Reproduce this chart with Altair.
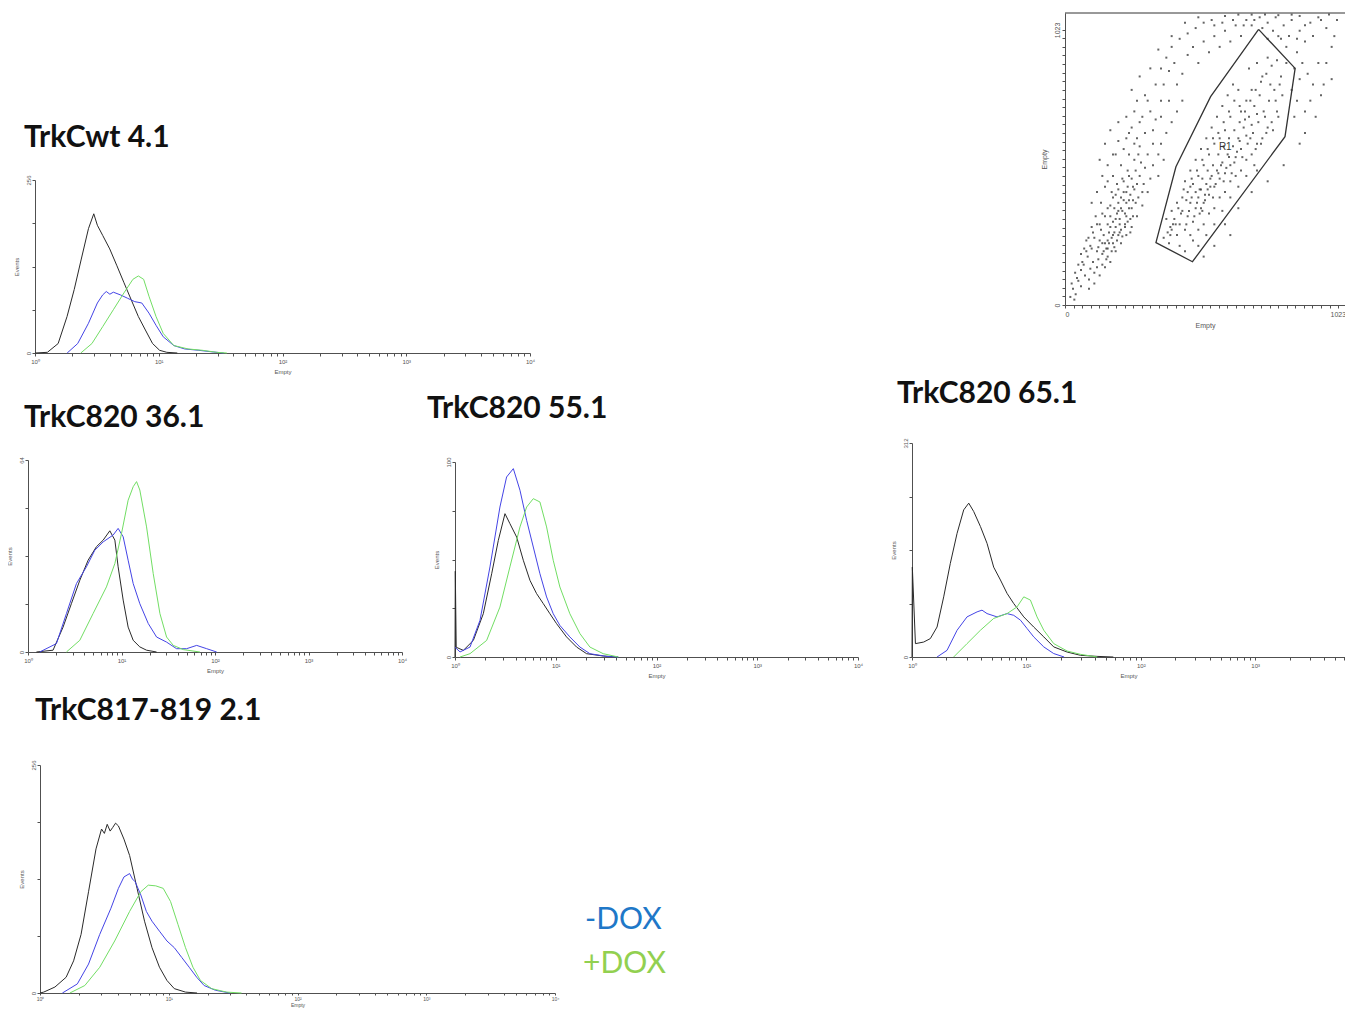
import math
import pandas as pd
import altair as alt

W, H = 1337, 1000
SERIES = ["control", "-DOX", "+DOX"]
COLORS = ["#2a2a2a", "#4444e6", "#72de64"]

# ---------------- histogram data (x = log10 decade of "Empty", y = Events) -------------
# Panel A: TrkCwt 4.1
A_ctrl_x = [0.0, 0.10, 0.187, 0.259, 0.317, 0.374, 0.432, 0.475, 0.504, 0.547, 0.604, 0.662, 0.719, 0.777, 0.835, 0.892, 0.95, 1.007, 1.065, 1.15]
A_ctrl_y = [0, 1, 14, 54, 94, 139, 184, 206, 189, 174, 154, 129, 104, 79, 54, 34, 14, 4, 1, 0]
A_minus_x = [0.26, 0.345, 0.432, 0.504, 0.547, 0.576, 0.605, 0.633, 0.69, 0.748, 0.806, 0.863, 0.921, 0.978, 1.036, 1.122, 1.209, 1.324, 1.44, 1.525]
A_minus_y = [0, 14, 44, 74, 86, 91, 87, 90, 86, 81, 76, 74, 59, 41, 24, 11, 6, 4, 1.5, 0]
A_plus_x = [0.37, 0.46, 0.547, 0.633, 0.719, 0.791, 0.835, 0.878, 0.921, 0.978, 1.036, 1.122, 1.237, 1.353, 1.468, 1.55]
A_plus_y = [0, 14, 39, 64, 89, 109, 114, 109, 84, 54, 29, 11, 6, 4, 1, 0]

# Panel B: TrkC820 36.1
B_ctrl_x = [0.09, 0.268, 0.375, 0.464, 0.554, 0.643, 0.732, 0.804, 0.875, 0.929, 0.964, 1.018, 1.071, 1.125, 1.196, 1.268, 1.375]
B_ctrl_y = [0, 0.6, 8.3, 16.1, 23.9, 30.6, 35.1, 37.3, 40.4, 37.3, 28.4, 17.3, 8.3, 3.9, 1.7, 0.6, 0]
B_minus_x = [0.125, 0.304, 0.411, 0.518, 0.625, 0.714, 0.804, 0.911, 0.964, 1.018, 1.071, 1.125, 1.196, 1.286, 1.375, 1.482, 1.589, 1.696, 1.804, 1.911, 2.018]
B_minus_y = [0, 2.8, 12.8, 22.8, 28.4, 33.9, 36.7, 39.0, 41.2, 38.4, 30.6, 22.8, 16.1, 9.5, 5.0, 3.3, 1.1, 1.1, 2.2, 1.1, 0]
B_plus_x = [0.411, 0.554, 0.696, 0.839, 0.929, 1.0, 1.071, 1.125, 1.161, 1.196, 1.268, 1.339, 1.411, 1.482, 1.554, 1.661, 1.839]
B_plus_y = [0, 3.9, 12.8, 21.7, 29.5, 39.5, 50.6, 55.1, 56.8, 54.0, 41.7, 26.2, 12.8, 5.0, 2.2, 0.8, 0]

# Panel C: TrkC820 55.1
C_ctrl_x = [0.0, 0.003, 0.012, 0.083, 0.182, 0.281, 0.364, 0.43, 0.496, 0.545, 0.612, 0.678, 0.744, 0.81, 0.876, 0.942, 1.008, 1.107, 1.207, 1.306, 1.471, 1.62]
C_ctrl_y = [0, 44, 5, 3.4, 8.5, 22.2, 42.7, 59.8, 73.5, 68.4, 61.5, 49.6, 39.3, 32.5, 27.4, 22.2, 17.1, 10.3, 5.1, 1.7, 0.5, 0]
C_minus_x = [0.0, 0.05, 0.149, 0.248, 0.347, 0.446, 0.512, 0.579, 0.645, 0.711, 0.777, 0.843, 0.909, 0.975, 1.041, 1.14, 1.24, 1.339, 1.504, 1.62]
C_minus_y = [5, 2.6, 5.1, 18.8, 46.2, 76.9, 92.3, 96.6, 85.5, 70.1, 56.4, 42.7, 30.8, 22.2, 16.2, 10.3, 5.1, 1.7, 0.3, 0]
C_plus_x = [0.05, 0.149, 0.314, 0.446, 0.545, 0.645, 0.711, 0.777, 0.843, 0.909, 0.975, 1.041, 1.14, 1.24, 1.339, 1.471, 1.62]
C_plus_y = [0, 1.7, 8.5, 25.6, 46.2, 66.7, 76.9, 81.2, 79.5, 66.7, 49.6, 35.9, 22.2, 12.0, 5.1, 1.7, 0]

# Panel D: TrkC820 65.1
D_ctrl_x = [0.0, 0.003, 0.03, 0.102, 0.16, 0.219, 0.277, 0.335, 0.394, 0.452, 0.496, 0.539, 0.598, 0.656, 0.714, 0.773, 0.831, 0.889, 0.977, 1.064, 1.152, 1.239, 1.356, 1.472, 1.618, 1.76]
D_ctrl_y = [0, 131, 19.5, 21.8, 26.8, 43.7, 87.7, 136.5, 180.3, 214.5, 224.3, 212.2, 190.3, 165.7, 131.0, 112.3, 92.7, 78.0, 58.5, 43.7, 29.3, 14.7, 7.2, 2.5, 0.9, 0]
D_minus_x = [0.219, 0.306, 0.394, 0.481, 0.569, 0.612, 0.656, 0.743, 0.831, 0.889, 0.948, 1.006, 1.064, 1.152, 1.239, 1.33]
D_minus_y = [0, 9.7, 39, 58.5, 65.8, 68.3, 63.3, 58.5, 63.3, 60.8, 53.7, 41.5, 29.3, 14.7, 5.0, 0]
D_plus_x = [0.364, 0.481, 0.598, 0.714, 0.831, 0.918, 0.977, 1.035, 1.093, 1.152, 1.239, 1.356, 1.472, 1.618]
D_plus_y = [0, 19.5, 39, 56.2, 63.3, 73, 87.7, 83, 58.5, 39, 19.5, 8.7, 3.9, 0]

# Panel E: TrkC817-819 2.1
E_ctrl_x = [0.0, 0.029, 0.116, 0.203, 0.261, 0.319, 0.377, 0.435, 0.478, 0.50, 0.522, 0.545, 0.565, 0.587, 0.609, 0.652, 0.696, 0.754, 0.812, 0.87, 0.928, 0.986, 1.043, 1.13, 1.22]
E_ctrl_y = [0, 1, 6.7, 17.7, 36.1, 65.8, 113.7, 161.8, 184.1, 179.2, 189.4, 181.8, 185.9, 190.7, 187.6, 172.8, 154.4, 117.5, 80.6, 50.9, 28.9, 14.1, 4.9, 1.0, 0]
E_minus_x = [0.174, 0.29, 0.377, 0.464, 0.551, 0.609, 0.652, 0.696, 0.718, 0.739, 0.783, 0.826, 0.87, 0.928, 0.986, 1.043, 1.101, 1.159, 1.217, 1.275, 1.362, 1.475]
E_minus_y = [0, 10.2, 32.5, 65.8, 95.2, 117.5, 130.3, 134.1, 128, 124.9, 110.1, 91.6, 80.6, 69.4, 58.4, 50.9, 39.9, 28.9, 17.7, 8.4, 3.1, 0]
E_plus_x = [0.232, 0.348, 0.464, 0.58, 0.696, 0.783, 0.841, 0.899, 0.957, 1.014, 1.072, 1.13, 1.188, 1.246, 1.333, 1.449, 1.565]
E_plus_y = [0, 8.4, 28.9, 58.4, 91.6, 113.7, 121.1, 120.3, 117.5, 102.7, 76.8, 50.9, 28.9, 14.1, 4.9, 1.0, 0]

# y-axis maxima printed on each histogram
Y_MAX = {"A": 256, "B": 64, "C": 100, "D": 312, "E": 256}

# ---------------- scatter (dot plot, channels 0-1023) -------------
scatter_x = [60, 75, 70, 90, 95, 85, 110, 105, 120, 100, 125, 130, 140, 135, 150, 145, 160, 155, 165, 170,
             175, 180, 185, 190, 195, 200, 205, 210, 215, 220, 225, 230, 235, 240, 245, 250, 255, 260, 265, 270,
             280, 285, 290, 300, 120, 140, 160, 180, 200, 150, 170, 190, 210, 230, 250, 130, 110, 95, 80, 175,
             195, 215, 235, 260, 275, 160, 185, 205, 225, 245, 265, 145, 125, 210, 220, 240, 230, 200, 190, 170,
             370, 390, 400, 420, 410, 430, 440, 450, 460, 470, 480, 490, 500, 505, 510, 520, 530, 540, 550, 560,
             570, 580, 590, 600, 610, 620, 630, 640, 650, 660, 670, 680, 690, 700, 710, 720, 730, 700, 680, 660,
             650, 740, 720, 690, 760, 770, 790, 750, 780, 800, 810, 620, 600, 580, 560, 540, 520, 500, 480, 460,
             440, 420, 400, 380, 450, 470, 490, 510, 530, 550, 570, 590, 610, 630, 480, 500, 520, 540, 560, 580,
             600, 620, 640, 660, 680, 700, 720, 740, 760, 450, 430, 470, 510, 525, 545, 490, 470, 455, 435, 415,
             395, 515, 535, 555, 575, 595, 615, 635, 655, 675, 695, 715, 735, 755, 775, 795,
             120, 140, 160, 100, 180, 200, 220, 240, 260, 280, 300, 320, 340, 360, 300, 260, 230, 200, 330, 350,
             310, 370, 390, 410, 420, 440, 460, 480, 500, 520, 540, 560, 580, 600, 620, 640, 660, 680, 700, 730,
             760, 790, 820, 850, 880, 900, 920, 950, 980, 870, 890, 910, 930, 850, 870, 900, 940, 960, 830, 800,
             760, 980, 1000, 1020, 420, 440, 400, 380, 360, 150, 130, 170, 250, 280, 320, 350, 400, 450, 500, 550,
             600, 650, 700, 750, 800, 850, 880, 700, 760, 820, 650, 880, 600, 560, 520, 620, 720, 40, 50, 30, 60,
             45, 65, 80, 100, 115, 135, 150, 90, 110, 130, 150, 170, 190, 210, 230, 250, 270, 290, 310, 320,
             195, 215, 185, 175, 155, 140, 160, 180, 165, 205, 225, 245, 235, 255, 275, 295, 255, 240, 220, 200,
             180, 160, 140, 120, 105, 88, 72, 60, 50, 38,
             455, 465, 475, 485, 495, 505, 515, 525, 535, 545, 555, 565, 575, 585, 595, 605, 615, 625, 635, 645,
             655, 665, 685, 705, 725, 745, 765, 785, 805, 815, 795, 775, 755, 735, 715, 695, 675, 655, 635, 615,
             595, 575, 555, 535, 515, 495, 475, 445, 425, 405, 395, 385, 500, 530, 560, 590, 620, 650, 680, 710,
             210, 240, 270, 290, 310, 340, 360, 380, 400, 430, 460, 490, 520, 560, 590, 630, 670, 710, 740, 780,
             810, 840, 870, 900, 930, 960, 990, 1010, 860, 880, 920, 950, 970, 1000, 900, 860, 830, 250, 270, 230,
             190, 330, 360, 390, 330, 280, 180, 160, 350, 370, 20, 35, 25]
scatter_y = [70, 110, 150, 95, 135, 180, 120, 160, 200, 210, 170, 240, 190, 280, 230, 260, 300, 210, 270, 330,
             250, 310, 360, 290, 340, 380, 320, 400, 350, 420, 300, 380, 440, 360, 410, 470, 390, 430, 500, 450,
             480, 530, 420, 510, 140, 150, 180, 230, 260, 330, 370, 410, 280, 330, 360, 300, 250, 220, 200, 420,
             450, 470, 500, 540, 560, 240, 270, 300, 340, 320, 380, 200, 215, 360, 390, 390, 420, 350, 320, 290,
             250, 230, 280, 260, 320, 300, 350, 280, 330, 380, 310, 360, 400, 340, 430, 380, 450, 410, 480, 440,
             500, 470, 530, 490, 560, 520, 590, 550, 620, 580, 660, 630, 700, 670, 740, 710, 780, 800, 760, 720,
             800, 850, 900, 880, 920, 820, 760, 700, 650, 700, 850, 700, 650, 620, 600, 560, 520, 480, 450, 420,
             400, 380, 350, 320, 460, 500, 540, 580, 620, 660, 700, 740, 780, 820, 240, 280, 300, 340, 360, 400,
             420, 460, 480, 500, 540, 560, 600, 620, 660, 200, 220, 260, 360, 410, 440, 420, 440, 390, 340, 300,
             260, 470, 500, 520, 560, 590, 620, 650, 680, 720, 760, 800, 830, 860, 890, 910,
             420, 480, 520, 380, 560, 610, 580, 640, 600, 680, 640, 720, 690, 760, 780, 720, 700, 680, 600, 560,
             560, 820, 870, 900, 820, 860, 930, 960, 900, 980, 940, 1000, 960, 1020, 980, 1040, 1000, 1060, 1040, 1070,
             1050, 1070, 1040, 1060, 1020, 980, 1050, 1070, 1030, 940, 900, 860, 820, 800, 760, 720, 700, 780, 960, 1000,
             990, 900, 960, 1060, 720, 760, 680, 640, 600, 600, 540, 650, 800, 850, 880, 950, 1000, 1050, 1070, 1060,
             1075, 1080, 1080, 1080, 1078, 1080, 1075, 420, 460, 520, 360, 600, 300, 220, 180, 260, 500, 40, 90, 60, 130,
             100, 160, 240, 290, 330, 380, 440, 60, 80, 110, 140, 160, 200, 230, 260, 290, 330, 370, 420, 470,
             240, 255, 215, 200, 170, 230, 210, 260, 230, 270, 290, 270, 310, 330, 400, 450, 440, 480, 460, 430,
             400, 360, 340, 300, 270, 250, 210, 190, 150, 120,
             300, 350, 400, 330, 380, 430, 350, 390, 430, 470, 400, 450, 490, 520, 460, 510, 550, 490, 530, 570,
             610, 550, 600, 640, 680, 720, 760, 800, 820, 780, 720, 680, 640, 600, 580, 620, 690, 740, 760, 720,
             680, 640, 620, 580, 540, 500, 470, 430, 360, 300, 290, 270, 220, 260, 300, 350, 400, 440, 480, 520,
             520, 560, 620, 700, 760, 820, 880, 920, 960, 990, 1010, 1030, 1050, 1040, 1050, 1060, 1040, 1060, 1030, 1020,
             990, 1000, 990, 1040, 1000, 1060, 1080, 1000, 880, 840, 760, 900, 820, 840, 640, 700, 900, 660, 760, 620,
             560, 520, 700, 760, 650, 590, 480, 460, 480, 540, 30, 20, 80]

gate_x = [726, 863, 825, 478, 341, 416, 546, 726]
gate_y = [1025, 880, 626, 161, 232, 514, 775, 1025]

TITLES = ["TrkCwt 4.1", "TrkC820 36.1", "TrkC820 55.1", "TrkC820 65.1", "TrkC817-819 2.1"]
LEGEND = ["-DOX", "+DOX"]
LEGEND_COLORS = ["#1f78c8", "#92d050"]

AXIS_COLOR = "#505050"
LABEL_FONT = "Liberation Sans"
DEC_LABELS = "datum.value == 0 ? '10\u2070' : datum.value == 1 ? '10\u00b9' : datum.value == 2 ? '10\u00b2' : datum.value == 3 ? '10\u00b3' : datum.value == 4 ? '10\u2074' : ''"


def base_axis(**kw):
    d = dict(domainColor=AXIS_COLOR, tickColor=AXIS_COLOR, labelColor="#555555",
             titleColor="#555555", labelFont=LABEL_FONT, titleFont=LABEL_FONT,
             labelFontSize=6, titleFontSize=6, titleFontWeight="normal", grid=False,
             labelOverlap=False, labelFlush=False, domainWidth=1, tickWidth=1)
    d.update(kw)
    return alt.Axis(**d)


def hist_panel(key, curves, x0, x1, dmax, ytop, ybase, small=False):
    ymax = Y_MAX[key]
    rows = []
    for series, xs, ys in curves:
        for i, (a, b) in enumerate(zip(xs, ys)):
            rows.append({"x": a, "y": b, "series": series, "i": i})
    df = pd.DataFrame(rows)
    ticks = [k + math.log10(m) for k in range(4) for m in range(1, 10)] + [4.0]
    ticks = [t for t in ticks if t <= dmax + 1e-9]
    fs = 5 if small else 6
    xaxis = base_axis(orient="bottom", offset=ybase - H, values=ticks, labelExpr=DEC_LABELS,
                      tickSize=2 if small else 3, labelPadding=1 if small else 2,
                      title="Empty", titlePadding=1 if small else 4,
                      labelFontSize=fs, titleFontSize=fs)
    yaxis = base_axis(orient="left", offset=-x0,
                      values=[0, ymax / 4, ymax / 2, 3 * ymax / 4, ymax], format="d",
                      labelExpr=f"datum.value == 0 || datum.value == {ymax} ? datum.label : ''",
                      labelAngle=270, labelAlign="center", labelBaseline="bottom",
                      tickSize=3, labelPadding=1, title="Events", titlePadding=6)
    return alt.Chart(df).mark_line(strokeWidth=1).encode(
        x=alt.X("x:Q", scale=alt.Scale(domain=[0, dmax], range=[x0, x1], nice=False, zero=False), axis=xaxis),
        y=alt.Y("y:Q", scale=alt.Scale(domain=[0, ymax], range=[ybase, ytop], nice=False), axis=yaxis),
        color=alt.Color("series:N", scale=alt.Scale(domain=SERIES, range=COLORS), legend=None),
        detail="series:N",
        order="i:Q",
    )


A = hist_panel("A", [("control", A_ctrl_x, A_ctrl_y), ("-DOX", A_minus_x, A_minus_y), ("+DOX", A_plus_x, A_plus_y)],
               27, 522, 4.0, 172, 345)
B = hist_panel("B", [("control", B_ctrl_x, B_ctrl_y), ("-DOX", B_minus_x, B_minus_y), ("+DOX", B_plus_x, B_plus_y)],
               20, 394, 4.0, 452, 644)
C = hist_panel("C", [("control", C_ctrl_x, C_ctrl_y), ("-DOX", C_minus_x, C_minus_y), ("+DOX", C_plus_x, C_plus_y)],
               447, 850, 4.0, 454, 649)
D = hist_panel("D", [("control", D_ctrl_x, D_ctrl_y), ("-DOX", D_minus_x, D_minus_y), ("+DOX", D_plus_x, D_plus_y)],
               904, 1337, 3.785, 435, 649)
E = hist_panel("E", [("control", E_ctrl_x, E_ctrl_y), ("-DOX", E_minus_x, E_minus_y), ("+DOX", E_plus_x, E_plus_y)],
               32, 547, 4.0, 757, 985, small=True)

# ---------------- scatter panel ----------------
SX = alt.Scale(domain=[0, 1050], range=[1057, 1337], nice=False, zero=False)
SY = alt.Scale(domain=[0, 1086], range=[297, 5], nice=False, zero=False)
sticks = list(range(0, 1024, 32)) + [1023]
sxaxis = base_axis(orient="bottom", offset=297 - H, values=sticks, format="d",
                   labelExpr="datum.value == 0 || datum.value == 1023 ? datum.label : ''",
                   tickSize=3, labelPadding=2, title="Empty", titlePadding=4, labelFontSize=7, titleFontSize=7,
                   labelFlush=True)
syaxis = base_axis(orient="left", offset=-1057, values=sticks, format="d",
                   labelExpr="datum.value == 0 || datum.value == 1023 ? datum.label : ''",
                   labelAngle=270, labelAlign="center", labelBaseline="bottom",
                   tickSize=3, labelPadding=2, title="Empty", titlePadding=6, labelFontSize=7, titleFontSize=7)

pts = alt.Chart(pd.DataFrame({"x": scatter_x, "y": scatter_y})).mark_square(
    size=4, color="#222222", opacity=0.7).encode(
    x=alt.X("x:Q", scale=SX, axis=sxaxis), y=alt.Y("y:Q", scale=SY, axis=syaxis))
gate = alt.Chart(pd.DataFrame({"x": gate_x, "y": gate_y, "i": list(range(len(gate_x)))})).mark_line(
    color="#333333", strokeWidth=1.3).encode(
    x=alt.X("x:Q", scale=SX, axis=sxaxis), y=alt.Y("y:Q", scale=SY, axis=syaxis), order="i:Q")
frame = alt.Chart(pd.DataFrame({"x": [0], "x2": [1050], "y": [1086]})).mark_rule(
    color="#333333", strokeWidth=1).encode(
    x=alt.X("x:Q", scale=SX, axis=sxaxis), x2="x2:Q", y=alt.Y("y:Q", scale=SY, axis=syaxis))
r1 = alt.Chart(pd.DataFrame({"x": [601], "y": [589], "t": ["R1"]})).mark_text(
    fontSize=10, font=LABEL_FONT, color="#333333").encode(
    x=alt.X("x:Q", scale=SX, axis=sxaxis), y=alt.Y("y:Q", scale=SY, axis=syaxis), text="t:N")
scatter = alt.layer(pts, gate, frame, r1)

# ---------------- titles and legend text ----------------
def label(text, x, y, size=30, weight="bold", color="#111111"):
    return alt.Chart(pd.DataFrame({"t": [text]})).mark_text(
        align="left", baseline="alphabetic", font="Lato", fontSize=size, fontWeight=weight, color=color
    ).encode(x=alt.value(x), y=alt.value(y), text="t:N")

texts = [
    label(TITLES[0], 16, 139),
    label(TITLES[1], 16, 419),
    label(TITLES[2], 419, 410),
    label(TITLES[3], 889, 395),
    label(TITLES[4], 27, 712),
    label(LEGEND[0], 577, 921, size=30, weight="normal", color=LEGEND_COLORS[0]),
    label(LEGEND[1], 575, 965, size=30, weight="normal", color=LEGEND_COLORS[1]),
]

chart = alt.layer(A, B, C, D, E, scatter, *texts).resolve_scale(
    x="independent", y="independent"
).properties(
    width=W, height=H, padding=0, autosize=alt.AutoSizeParams(type="none")
).configure_view(stroke=None)

chart.save("out.html", embed_options={"renderer": "svg", "actions": False})
